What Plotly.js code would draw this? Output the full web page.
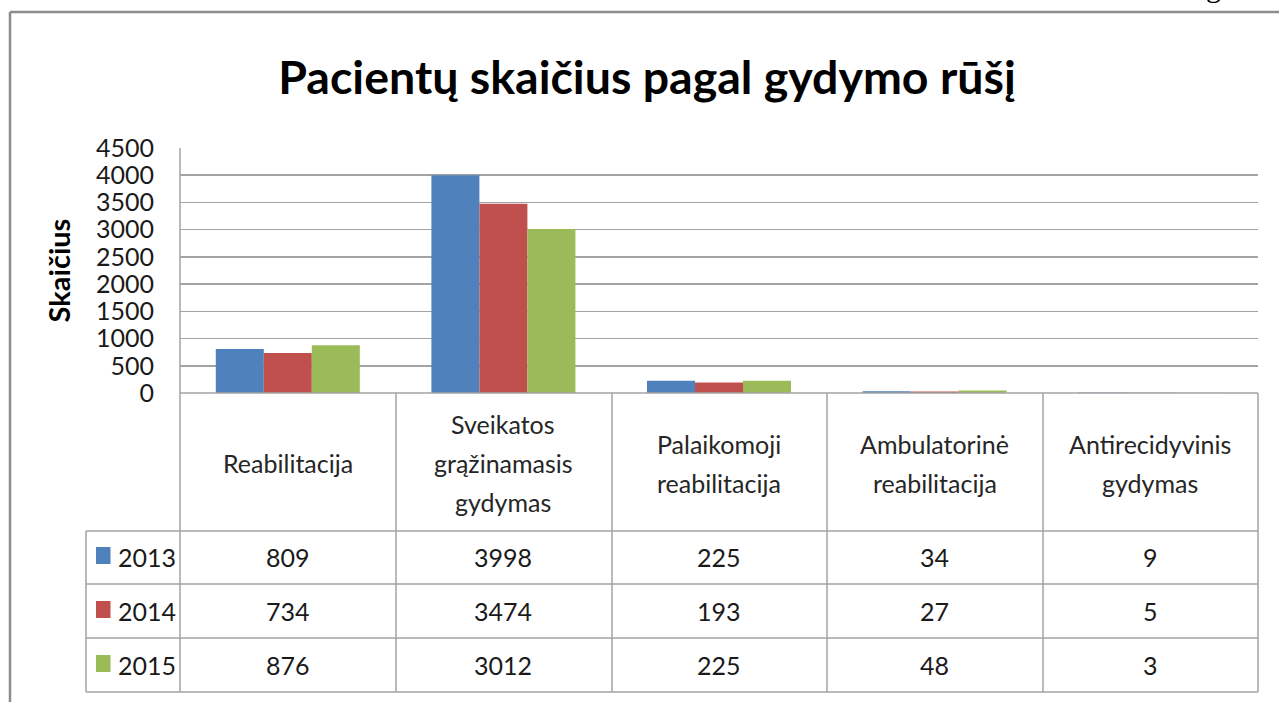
<!DOCTYPE html>
<html>
<head>
<meta charset="utf-8">
<script src="https://cdn.plot.ly/plotly-3.0.1.min.js"></script>
<style>html,body{margin:0;padding:0;background:#fff;}#chart{width:1279px;height:702px;}</style>
</head>
<body>
<div id="chart"></div>
<script>
// ---- data ----
var categories = ["Reabilitacija", "Sveikatos grąžinamasis gydymas", "Palaikomoji reabilitacija", "Ambulatorinė reabilitacija", "Antirecidyvinis gydymas"];
var categoryLabels = ["Reabilitacija", "Sveikatos<br>grąžinamasis<br>gydymas", "Palaikomoji<br>reabilitacija", "Ambulatorinė<br>reabilitacija", "Antirecidyvinis<br>gydymas"];
var years = ["2013", "2014", "2015"];
var values2013 = [809, 3998, 225, 34, 9];
var values2014 = [734, 3474, 193, 27, 5];
var values2015 = [876, 3012, 225, 48, 3];
var yTicks = [0, 500, 1000, 1500, 2000, 2500, 3000, 3500, 4000, 4500];

var series = [values2013, values2014, values2015];
var colors = ["#4F81BD", "#C0504D", "#9BBB59"];
var FONT = 'Lato, "Open Sans", sans-serif';

// plot area in pixels
var L = 180, R = 1258, T = 148, B = 393, W = 1279, H = 702;
function X(px) { return (px - L) / (R - L); }
function Y(py) { return (B - py) / (B - T); }

var traces = series.map(function (vals, i) {
  return {
    type: "bar", x: categories, y: vals, name: years[i],
    marker: { color: colors[i], line: { width: 0 } },
    showlegend: false, hoverinfo: "skip"
  };
});

var gridCol = "#a3a3a3";
var shapes = [];
function line(x0, y0, x1, y1, col, w) {
  shapes.push({ type: "line", xref: "paper", yref: "paper", x0: X(x0), y0: Y(y0), x1: X(x1), y1: Y(y1),
    line: { color: col || gridCol, width: w || 1.5 }, layer: "above" });
}
// outer frame
line(10, 12, 1279, 12, "#8c8c8c", 2.5);
line(10, 12, 10, 702, "#8c8c8c", 2.5);
// table
var colEdges = [180, 396, 612, 827, 1043, 1258];
var rowEdges = [531, 584, 638, 692];
colEdges.forEach(function (cx, i) { line(cx, i === 0 ? 148 : 393, cx, 692); });
line(180, 393, 1258, 393);
rowEdges.forEach(function (ry) { line(86, ry, 1258, ry); });
line(86, 531, 86, 692);

var rowCenters = [557, 611, 665];
var annotations = [];
// category header labels (one annotation per line for Excel-like line spacing)
var lineStep = 39;
categoryLabels.forEach(function (lab, i) {
  var parts = lab.split("<br>");
  parts.forEach(function (p, k) {
    var cy = 463 + lineStep * (k - (parts.length - 1) / 2);
    annotations.push({ xref: "x", yref: "paper", x: categories[i], y: Y(cy), text: p, showarrow: false,
      xanchor: "center", yanchor: "middle", font: { family: FONT, size: 25, color: "#262626" } });
  });
});
// table values + legend keys
series.forEach(function (vals, r) {
  vals.forEach(function (v, i) {
    annotations.push({ xref: "x", yref: "paper", x: categories[i], y: Y(rowCenters[r]), text: String(v), showarrow: false,
      xanchor: "center", yanchor: "middle", font: { family: FONT, size: 25, color: "#1a1a1a" } });
  });
  annotations.push({ xref: "paper", yref: "paper", x: X(116), y: Y(rowCenters[r]), text: years[r], showarrow: false,
    xanchor: "left", yanchor: "middle", font: { family: FONT, size: 25, color: "#1a1a1a" } });
  shapes.push({ type: "rect", xref: "paper", yref: "paper", x0: X(96), x1: X(110.5), y0: Y(rowCenters[r] - 10), y1: Y(rowCenters[r] + 7),
    fillcolor: colors[r], line: { width: 0 }, layer: "above" });
});
// clipped glyph at top right
annotations.push({ xref: "paper", yref: "paper", x: X(1213), y: Y(-14), text: "g", showarrow: false,
  xanchor: "center", yanchor: "middle", font: { family: "Liberation Serif", size: 30, color: "#000" } });

var layout = {
  width: W, height: H,
  margin: { l: L, r: W - R, t: T, b: H - B, pad: 0 },
  paper_bgcolor: "#fff", plot_bgcolor: "#fff",
  title: { text: "<b>Pacientų skaičius pagal gydymo rūšį</b>", x: 647 / W, xanchor: "center", xref: "container",
    y: 1 - 78 / H, yanchor: "middle", yref: "container", font: { family: FONT, size: 46.5, color: "#000" } },
  bargap: 0.332, bargroupgap: 0, barmode: "group",
  xaxis: { type: "category", range: [-0.5, 4.5], showticklabels: false, showgrid: false, zeroline: false, showline: false, fixedrange: true },
  yaxis: { range: [0, 4500], tickvals: yTicks, ticktext: yTicks.map(String), showgrid: true, gridcolor: gridCol, gridwidth: 1.5,
    zeroline: false, showline: false, ticks: "outside", ticklen: 20, tickcolor: "rgba(0,0,0,0)",
    tickfont: { family: FONT, size: 25, color: "#1a1a1a" },
    title: { text: "<b>Skaičius</b>", font: { family: FONT, size: 29, color: "#000" }, standoff: 16 },
    automargin: false, fixedrange: true },
  shapes: shapes, annotations: annotations
};
Plotly.newPlot("chart", traces, layout, { displayModeBar: false, staticPlot: true });
</script>
</body>
</html>
